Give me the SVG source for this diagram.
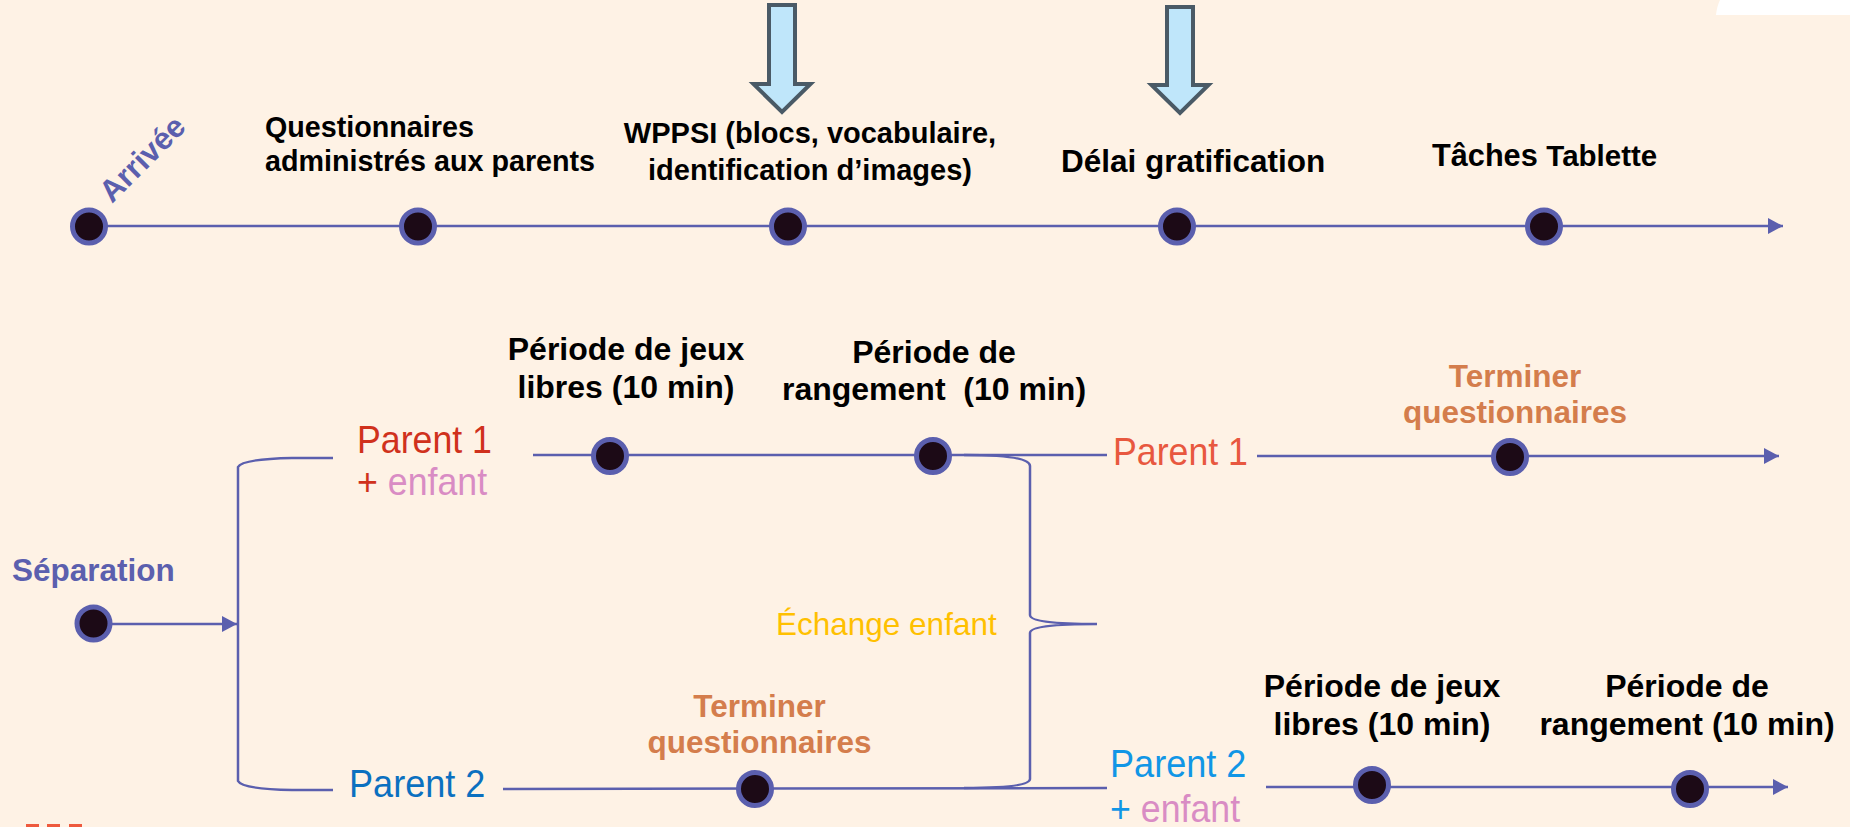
<svg xmlns="http://www.w3.org/2000/svg" width="1850" height="827" viewBox="0 0 1850 827">
<style>
.ln{fill:none;stroke:#5b5fae;stroke-width:2.5}
.nd{fill:#1c0a16;stroke:#5b5fae;stroke-width:5}
.b{font-family:"Liberation Sans",Arial,sans-serif;font-weight:bold;fill:#000}
.r{font-family:"Liberation Sans",Arial,sans-serif}
.pl{font-family:"Liberation Sans",Arial,sans-serif;font-size:38px}
.pur{fill:#5b5fae}
.org{fill:#d47d4c}
.pink{fill:#d98cc4}
.blk{fill:#bfe6fa;stroke:#4a5a66;stroke-width:4;stroke-linejoin:miter}
</style>
<defs>
<marker id="ah" markerUnits="userSpaceOnUse" markerWidth="16" markerHeight="17" refX="15" refY="8" orient="auto">
<path d="M0,0 L15,8 L0,16 Z" fill="#5b5fae"/>
</marker>
</defs>
<rect width="1850" height="827" fill="#fef2e5"/>
<path d="M1720,0 L1850,0 L1850,15 L1716,15 Q1717,6 1720,0 Z" fill="#ffffff"/>
<g id="dashes" fill="#ee5a3e">
<rect x="26" y="824" width="13" height="4"/>
<rect x="47" y="824" width="13" height="4"/>
<rect x="69" y="824" width="13" height="4"/>
</g>

<g id="connectors">
<line class="ln" x1="89" y1="226" x2="1783" y2="226" marker-end="url(#ah)"/>
<line class="ln" x1="94" y1="624" x2="237" y2="624" marker-end="url(#ah)"/>
<path class="ln" d="M333,458 L292,458 Q242,459 238,467 L238,781 Q242,789 292,790 L333,790"/>
<line class="ln" x1="533" y1="455" x2="1107" y2="455"/>
<path class="ln" d="M964,455 Q1030,455 1030,466 L1030,615 Q1030,624 1097,624 Q1030,624 1030,633 L1030,779 Q1030,788 964,788"/>
<line class="ln" x1="1257" y1="456" x2="1779" y2="456" marker-end="url(#ah)"/>
<line class="ln" x1="503" y1="789" x2="1107" y2="788"/>
<line class="ln" x1="1266" y1="787" x2="1788" y2="787" marker-end="url(#ah)"/>
</g>

<g id="arrow-wppsi"><path class="blk" d="M769,5 L795,5 L795,84 L810.5,84 L782,112 L753.5,84 L769,84 Z"/></g>
<g id="arrow-delai"><path class="blk" d="M1167,7 L1193,7 L1193,85 L1208.5,85 L1180,113 L1151.5,85 L1167,85 Z"/></g>

<g id="n-arrivee">
<circle class="nd" cx="89" cy="226.5" r="16.5"/>
<text class="b pur" x="112" y="204" font-size="31" transform="rotate(-45 112 204)">Arrivée</text>
</g>
<g id="n-questionnaires">
<circle class="nd" cx="418" cy="226.5" r="16.5"/>
<text class="b" font-size="28.7"><tspan x="265" y="137">Questionnaires</tspan><tspan x="265" y="171">administrés aux parents</tspan></text>
</g>
<g id="n-wppsi">
<circle class="nd" cx="788" cy="226.5" r="16.5"/>
<text class="b" font-size="29" text-anchor="middle"><tspan x="810" y="143">WPPSI (blocs, vocabulaire,</tspan><tspan x="810" y="180">identification d’images)</tspan></text>
</g>
<g id="n-delai">
<circle class="nd" cx="1177" cy="226.5" r="16.5"/>
<text class="b" x="1061" y="172" font-size="31.5">Délai gratification</text>
</g>
<g id="n-taches">
<circle class="nd" cx="1544" cy="226.5" r="16.5"/>
<text class="b" x="1432" y="166" font-size="30.7">Tâches <tspan font-size="29.5">Tablette</tspan></text>
</g>

<g id="n-separation">
<circle class="nd" cx="93.5" cy="623.5" r="16.5"/>
<text class="b pur" x="12" y="580.5" font-size="31.5">Séparation</text>
</g>
<g id="lbl-parent1-enfant">
<text class="pl" transform="translate(357 453) scale(0.94 1)" fill="#d0311c">Parent 1</text>
<text class="pl" transform="translate(357 495) scale(0.94 1)" fill="#d0311c">+ <tspan class="pink">enfant</tspan></text>
</g>
<g id="n-jeux1">
<circle class="nd" cx="610" cy="456" r="16.5"/>
<text class="b" font-size="32" text-anchor="middle"><tspan x="626" y="360">Période de jeux</tspan><tspan x="626" y="398">libres (10 min)</tspan></text>
</g>
<g id="n-rangement1">
<circle class="nd" cx="933" cy="456" r="16.5"/>
<text class="b" font-size="32" text-anchor="middle" xml:space="preserve"><tspan x="934" y="363">Période de</tspan><tspan x="934" y="400">rangement  (10 min)</tspan></text>
</g>
<g id="lbl-echange">
<text class="r" x="776" y="635" font-size="31.5" fill="#ffc000">Échange enfant</text>
</g>
<g id="lbl-parent1-right">
<text class="pl" transform="translate(1113 465) scale(0.94 1)" fill="#e8583f">Parent 1</text>
</g>
<g id="n-terminer1">
<circle class="nd" cx="1510" cy="457" r="16.5"/>
<text class="b org" font-size="31.5" text-anchor="middle"><tspan x="1515" y="387">Terminer</tspan><tspan x="1515" y="423">questionnaires</tspan></text>
</g>
<g id="lbl-parent2-left">
<text class="pl" transform="translate(349 797) scale(0.95 1)" fill="#0b70c0">Parent 2</text>
</g>
<g id="n-terminer2">
<circle class="nd" cx="755" cy="789" r="16.5"/>
<text class="b org" font-size="31.5" text-anchor="middle"><tspan x="759.5" y="717">Terminer</tspan><tspan x="759.5" y="753">questionnaires</tspan></text>
</g>
<g id="lbl-parent2-right">
<text class="pl" transform="translate(1110 777) scale(0.95 1)" fill="#1196e6">Parent 2</text>
<text class="pl" transform="translate(1110 822) scale(0.94 1)" fill="#1196e6">+ <tspan class="pink">enfant</tspan></text>
</g>
<g id="n-jeux2">
<circle class="nd" cx="1372" cy="785" r="16.5"/>
<text class="b" font-size="32" text-anchor="middle"><tspan x="1382" y="697">Période de jeux</tspan><tspan x="1382" y="735">libres (10 min)</tspan></text>
</g>
<g id="n-rangement2">
<circle class="nd" cx="1690" cy="789" r="16.5"/>
<text class="b" font-size="32" text-anchor="middle"><tspan x="1687" y="697">Période de</tspan><tspan x="1687" y="735">rangement (10 min)</tspan></text>
</g>
</svg>
